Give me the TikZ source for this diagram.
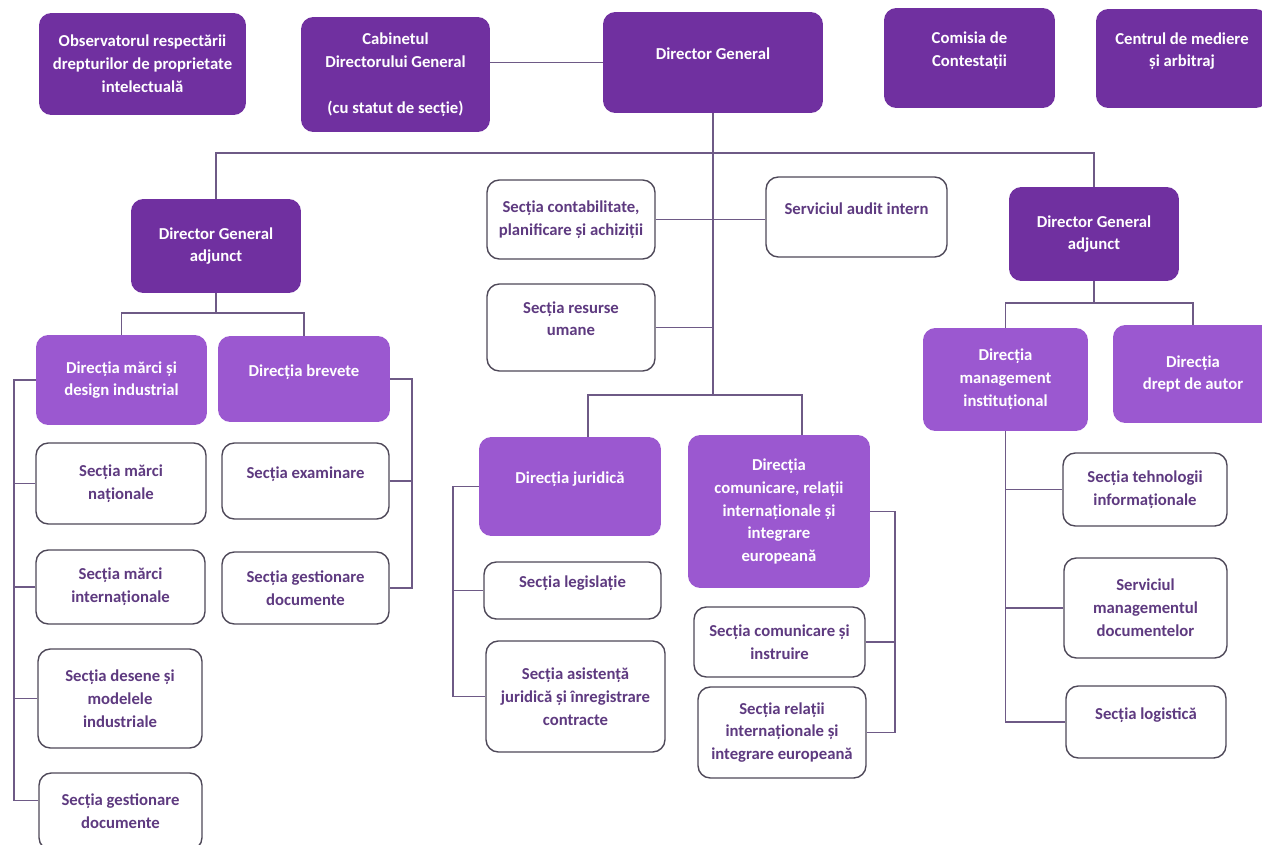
\documentclass[tikz,border=0pt]{standalone}
\usepackage{fontspec}
\setmainfont{Carlito}
\definecolor{dpurple}{HTML}{7030A0}
\definecolor{lpurple}{HTML}{9B58D0}
\definecolor{tpurple}{HTML}{5E3A80}
\definecolor{lline}{HTML}{6E5A86}
\definecolor{bline}{HTML}{4E4858}

\begin{document}
\begin{tikzpicture}[x=0.02cm,y=-0.02cm,
	box/.style={rounded corners=7pt,align=center,inner sep=2pt,font=\fontsize{9.5}{13}\selectfont\bfseries},
	dark/.style={box,fill=dpurple,text=white},
	light/.style={box,fill=lpurple,text=white},
	sect/.style={box,draw=bline,line width=0.8pt,fill=white,text=tpurple},
	raised/.style={text depth=10pt},
	conn/.style={draw=lline,line width=1.1pt}]
	\useasboundingbox (0,0) rectangle (1262,845);

	\node[dark,minimum width=4.14cm,minimum height=2.04cm] (obs) at (142.5,64) {Observatorul respectării\\drepturilor de proprietate\\intelectuală};
	\node[dark,minimum width=3.78cm,minimum height=2.30cm] (cab) at (395.5,74.5) {Cabinetul\\Directorului General\\[13pt](cu statut de secție)};
	\node[dark,raised,minimum width=4.40cm,minimum height=2.02cm] (dg) at (713,62.5) {Director General};
	\node[dark,raised,minimum width=3.42cm,minimum height=2.00cm] (comis) at (969.5,58) {Comisia de\\Contestații};
	\node[dark,raised,minimum width=3.44cm,minimum height=1.98cm] (med) at (1182,58.5) {Centrul de mediere\\și arbitraj};

	\node[dark,minimum width=3.40cm,minimum height=1.88cm] (dgaL) at (216,246) {Director General\\adjunct};
	\node[dark,minimum width=3.40cm,minimum height=1.88cm] (dgaR) at (1094,234) {Director General\\adjunct};
	\node[sect,minimum width=3.36cm,minimum height=1.58cm] (contab) at (571,219.5) {Secția contabilitate,\\planificare și achiziții};
	\node[sect,raised,minimum width=3.62cm,minimum height=1.60cm] (audit) at (856.5,217) {Serviciul audit intern};
	\node[sect,raised,minimum width=3.36cm,minimum height=1.74cm] (resurse) at (571,327.5) {Secția resurse\\umane};

	\node[light,minimum width=3.42cm,minimum height=1.80cm] (marci) at (121.5,380) {Direcția mărci și\\design industrial};
	\node[light,raised,minimum width=3.44cm,minimum height=1.72cm] (brev) at (304,379) {Direcția brevete};
	\node[sect,minimum width=3.40cm,minimum height=1.62cm] (nat) at (121,483.5) {Secția mărci\\naționale};
	\node[sect,minimum width=3.38cm,minimum height=1.48cm] (intl) at (120.5,587) {Secția mărci\\internaționale};
	\node[sect,minimum width=3.28cm,minimum height=1.98cm] (desene) at (120,698.5) {Secția desene și\\modelele\\industriale};
	\node[sect,minimum width=3.26cm,minimum height=1.54cm] (gest) at (120.5,811.5) {Secția gestionare\\documente};
	\node[sect,raised,minimum width=3.34cm,minimum height=1.52cm] (exam) at (305.5,481) {Secția examinare};
	\node[sect,minimum width=3.34cm,minimum height=1.44cm] (bgest) at (305.5,588) {Secția gestionare\\documente};

	\node[light,raised,minimum width=3.64cm,minimum height=1.98cm] (jur) at (570,486.5) {Direcția juridică};
	\node[light,minimum width=3.64cm,minimum height=3.06cm] (comrel) at (779,511.5) {Direcția\\comunicare, relații\\internaționale și\\integrare\\europeană};
	\node[sect,raised,minimum width=3.54cm,minimum height=1.14cm] (legis) at (572.5,590.5) {Secția legislație};
	\node[sect,minimum width=3.58cm,minimum height=2.22cm] (asist) at (575.5,696.5) {Secția asistență\\juridică și înregistrare\\contracte};
	\node[sect,minimum width=3.42cm,minimum height=1.40cm] (instr) at (779.5,642) {Secția comunicare și\\instruire};
	\node[sect,minimum width=3.36cm,minimum height=1.82cm] (rel) at (782,732.5) {Secția relații\\internaționale și\\integrare europeană};

	\node[light,minimum width=3.30cm,minimum height=2.06cm] (mgmt) at (1005.5,379.5) {Direcția\\management\\instituțional};
	\node[light,minimum width=3.20cm,minimum height=1.96cm] (autor) at (1193,374) {Direcția\\drept de autor};
	\node[sect,minimum width=3.28cm,minimum height=1.46cm] (tehn) at (1145,489.5) {Secția tehnologii\\informaționale};
	\node[sect,minimum width=3.26cm,minimum height=2.00cm] (serv) at (1145.5,608) {Serviciul\\managementul\\documentelor};
	\node[sect,raised,minimum width=3.20cm,minimum height=1.44cm] (log) at (1146,722) {Secția logistică};

	\coordinate (bus) at (715,153);
	\coordinate (jbus) at (715,395);
	\coordinate (lbus) at (216,313);
	\coordinate (rbus) at (1094,303);

	\draw[conn] (cab.east |- dg.west) -- (dg.west);
	\draw[conn] (dg.south) -- (dg.south |- jbus);
	\draw[conn] (dgaL.north) -- (dgaL.north |- bus) -- (dgaR.north |- bus) -- (dgaR.north);
	\draw[conn] (contab.east) -- (contab.east -| audit.west);
	\draw[conn] (resurse.east) -- (resurse.east -| dg.south);
	\draw[conn] ([xshift=0.36cm]jur.north) |- (jbus) -| ([xshift=0.46cm]comrel.north);

	\draw[conn] (dgaL.south) -- (lbus);
	\draw[conn] (marci.north) |- (lbus) -| (brev.north);
	\draw[conn] (marci.west) -- ++(-22,0) coordinate (lbr) |- ([yshift=0.22cm]gest.west);
	\foreach \n in {nat,intl,desene}
		\draw[conn] (\n.west) -- (\n.west -| lbr);
	\draw[conn] (brev.east) -- ++(22,0) coordinate (rbr) |- (bgest.east);
	\draw[conn] (exam.east) -- (exam.east -| rbr);

	\draw[conn] (jur.west) -- ++(-26,0) coordinate (jbr) |- (asist.west);
	\draw[conn] (legis.west) -- (legis.west -| jbr);
	\draw[conn] (comrel.east) -- ++(25,0) coordinate (cbr) |- (rel.east);
	\draw[conn] (instr.east) -- (instr.east -| cbr);

	\draw[conn] (dgaR.south) -- (rbus);
	\draw[conn] (mgmt.north) |- (rbus) -| (autor.north);
	\draw[conn] (mgmt.south) |- (log.west);
	\foreach \n in {tehn,serv}
		\draw[conn] (\n.west) -- (\n.west -| mgmt.south);
\end{tikzpicture}
\end{document}
